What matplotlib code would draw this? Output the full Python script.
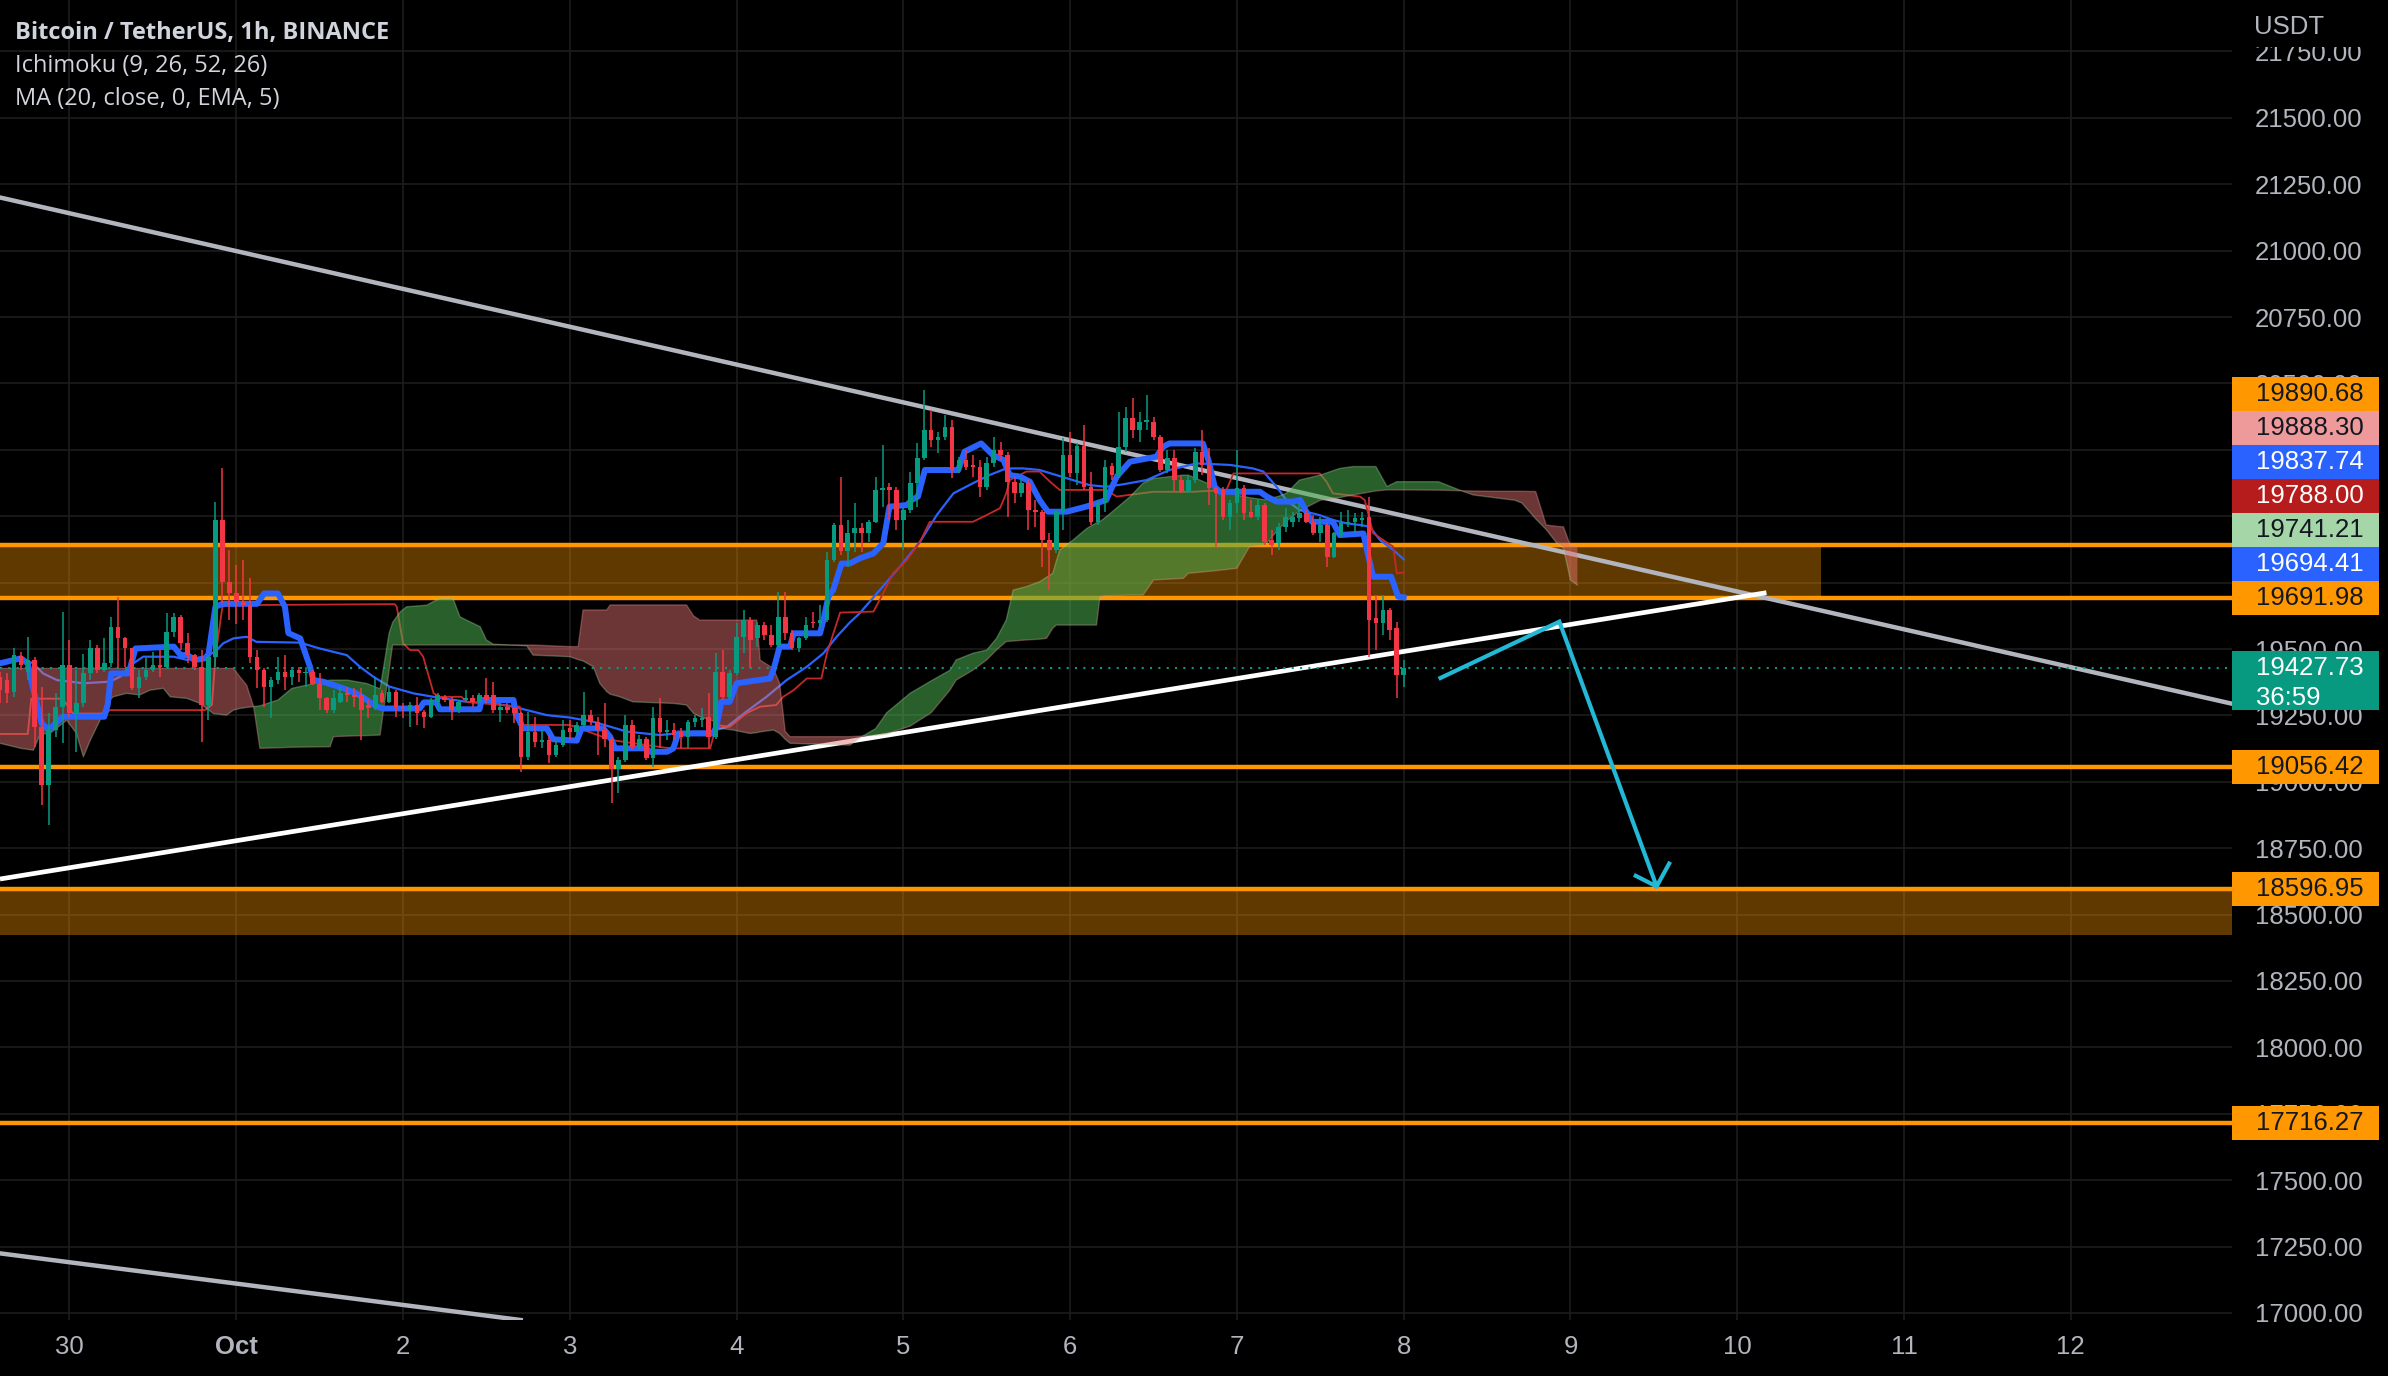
import numpy as np
import matplotlib
matplotlib.use('Agg')
import matplotlib.pyplot as plt
from matplotlib.patches import Rectangle
from matplotlib.transforms import blended_transform_factory

plt.rcParams['font.family'] = ['Liberation Sans', 'DejaVu Sans']

# hour 0 = 30 Sep 00:00, one candle per hour
hours = np.arange(-10, 193)
opens = [19396, 19383, 19339, 19473, 19414, 19458, 19207, 18988, 19195, 19283,
         19440, 19258, 19295, 19408, 19502, 19421, 19446, 19584, 19540, 19502,
         19352, 19396, 19421, 19440, 19433, 19565, 19622, 19521, 19477, 19433,
         19289, 19471, 19986, 19753, 19709, 19678, 19665, 19471, 19421, 19358,
         19383, 19414, 19396, 19421, 19408, 19412, 19370, 19314, 19270, 19301,
         19333, 19327, 19327, 19290, 19276, 19333, 19301, 19339, 19283, 19270,
         19289, 19264, 19245, 19301, 19320, 19308, 19270, 19308, 19314, 19301,
         19327, 19327, 19270, 19283, 19276, 19258, 19094, 19188, 19151, 19157,
         19101, 19138, 19201, 19189, 19214, 19251, 19226, 19195, 19163, 19050,
         19082, 19214, 19132, 19163, 19088, 19239, 19189, 19195, 19189, 19170,
         19226, 19233, 19245, 19170, 19415, 19320, 19408, 19546, 19609, 19540,
         19590, 19553, 19515, 19622, 19559, 19502, 19540, 19603, 19597, 19609,
         19835, 19967, 19870, 19935, 19954, 19935, 19979, 20099, 20111, 20099,
         19986, 20023, 20124, 20218, 20324, 20287, 20299, 20337, 20174, 20212,
         20189, 20187, 20111, 20199, 20249, 20230, 20130, 20086, 20124, 20023,
         20017, 19910, 19873, 20017, 20230, 20161, 20264, 20111, 19979, 20049,
         20189, 20155, 20262, 20368, 20324, 20356, 20356, 20299, 20174, 20218,
         20136, 20092, 20136, 20243, 20193, 20105, 20099, 19998, 20049, 20105,
         20017, 19998, 20042, 19910, 19898, 19960, 19979, 19992, 20011, 19979,
         19935, 19967, 19848, 19929, 19973, 19979, 19986, 19998, 19615, 19597,
         19647, 19578, 19402]
highs = [19414, 19408, 19502, 19490, 19546, 19471, 19358, 19258, 19333, 19640,
         19534, 19421, 19483, 19534, 19515, 19540, 19622, 19697, 19546, 19502,
         19421, 19465, 19490, 19496, 19634, 19634, 19628, 19559, 19483, 19496,
         19477, 20054, 20180, 19872, 19816, 19835, 19766, 19496, 19427, 19396,
         19471, 19477, 19433, 19433, 19433, 19421, 19408, 19320, 19345, 19358,
         19358, 19352, 19352, 19308, 19396, 19345, 19358, 19345, 19295, 19301,
         19320, 19270, 19314, 19333, 19327, 19320, 19308, 19345, 19327, 19333,
         19389, 19377, 19295, 19295, 19283, 19264, 19264, 19245, 19195, 19176,
         19157, 19232, 19232, 19226, 19339, 19270, 19245, 19295, 19170, 19094,
         19251, 19232, 19176, 19170, 19283, 19314, 19232, 19220, 19201, 19232,
         19251, 19276, 19333, 19484, 19496, 19421, 19597, 19647, 19622, 19603,
         19603, 19590, 19716, 19716, 19571, 19546, 19622, 19640, 19666, 19866,
         19973, 20149, 19985, 20048, 19973, 19986, 20149, 20268, 20124, 20111,
         20036, 20168, 20274, 20475, 20400, 20318, 20381, 20362, 20224, 20249,
         20230, 20212, 20224, 20299, 20281, 20243, 20149, 20143, 20136, 20061,
         20023, 19935, 20023, 20293, 20318, 20274, 20343, 20168, 20061, 20212,
         20199, 20393, 20412, 20444, 20393, 20456, 20375, 20306, 20249, 20249,
         20155, 20155, 20256, 20324, 20256, 20111, 20111, 20061, 20249, 20117,
         20061, 20061, 20049, 19948, 19973, 20030, 20017, 20049, 20023, 20004,
         19998, 19973, 19942, 20017, 20023, 20011, 20017, 20074, 19703, 19703,
         19653, 19603, 19458]
lows = [19295, 19295, 19320, 19421, 19383, 19132, 18912, 18837, 19170, 19145,
        19245, 19113, 19283, 19383, 19408, 19414, 19433, 19433, 19433, 19345,
        19314, 19383, 19414, 19396, 19427, 19546, 19496, 19446, 19421, 19151,
        19232, 19433, 19672, 19609, 19596, 19609, 19446, 19352, 19283, 19239,
        19370, 19345, 19364, 19377, 19358, 19364, 19270, 19258, 19258, 19295,
        19301, 19283, 19157, 19239, 19270, 19295, 19295, 19245, 19239, 19207,
        19214, 19201, 19239, 19270, 19301, 19232, 19258, 19301, 19283, 19295,
        19295, 19258, 19226, 19258, 19220, 19038, 19082, 19132, 19126, 19069,
        19094, 19132, 19157, 19176, 19201, 19214, 19101, 19132, 18919, 18956,
        19076, 19120, 19120, 19082, 19057, 19126, 19157, 19157, 19126, 19126,
        19207, 19207, 19126, 19163, 19308, 19308, 19402, 19484, 19427, 19509,
        19534, 19509, 19509, 19534, 19496, 19490, 19534, 19578, 19584, 19603,
        19829, 19854, 19810, 19866, 19866, 19904, 19973, 20036, 19986, 19948,
        19873, 20011, 20036, 20212, 20262, 20237, 20287, 20143, 20161, 20174,
        20149, 20074, 20099, 20187, 20212, 19998, 20048, 20074, 19948, 19961,
        19810, 19722, 19860, 19948, 20149, 20117, 20099, 19967, 19967, 20017,
        20136, 20143, 20243, 20293, 20281, 20324, 20287, 20168, 20161, 20092,
        20086, 20086, 20124, 20155, 20042, 19879, 19986, 19948, 20011, 19986,
        19992, 19986, 19891, 19854, 19873, 19942, 19961, 19979, 19973, 19929,
        19904, 19810, 19841, 19923, 19961, 19935, 19961, 19471, 19496, 19553,
        19534, 19314, 19358]
closes = [19345, 19333, 19477, 19440, 19458, 19207, 18988, 19195, 19283, 19440,
          19258, 19295, 19408, 19502, 19421, 19446, 19584, 19540, 19502, 19352,
          19396, 19421, 19440, 19433, 19565, 19622, 19521, 19477, 19433, 19289,
          19471, 19986, 19753, 19709, 19678, 19665, 19471, 19421, 19358, 19383,
          19414, 19396, 19421, 19408, 19412, 19370, 19314, 19270, 19314, 19333,
          19327, 19320, 19270, 19276, 19327, 19301, 19339, 19283, 19276, 19289,
          19258, 19245, 19308, 19327, 19308, 19270, 19301, 19314, 19301, 19327,
          19308, 19270, 19283, 19270, 19258, 19094, 19188, 19151, 19157, 19101,
          19138, 19195, 19189, 19214, 19251, 19226, 19195, 19163, 19050, 19082,
          19214, 19132, 19163, 19088, 19239, 19189, 19195, 19176, 19170, 19226,
          19239, 19239, 19170, 19415, 19320, 19408, 19546, 19609, 19534, 19590,
          19553, 19515, 19622, 19559, 19502, 19540, 19590, 19597, 19609, 19835,
          19967, 19870, 19935, 19954, 19935, 19979, 20099, 20105, 20099, 19986,
          20023, 20124, 20218, 20324, 20287, 20299, 20337, 20174, 20212, 20187,
          20187, 20111, 20199, 20249, 20230, 20130, 20086, 20124, 20023, 20017,
          19910, 19873, 20017, 20230, 20161, 20264, 20111, 19979, 20049, 20187,
          20155, 20262, 20368, 20324, 20356, 20359, 20299, 20174, 20218, 20136,
          20092, 20136, 20243, 20193, 20105, 20086, 19998, 20049, 20105, 20011,
          19998, 20042, 19904, 19891, 19960, 19998, 19998, 20011, 19979, 19935,
          19967, 19848, 19935, 19973, 19979, 19992, 19992, 19609, 19597, 19647,
          19571, 19402, 19427.73]

# Ichimoku conversion line (thick blue)
conv_h = [-10, -7, -6, -5.5, -4, -3, -1, 5, 5.5, 6,
          8.5, 9.5, 15, 16, 17, 18, 19.5, 20, 21, 22,
          27, 28, 30, 31, 31.5, 33.2, 34.6, 35.1, 36.5, 38,
          39.4, 41.3, 42.8, 44.2, 45.2, 50.4, 51, 52.8, 53.3, 59,
          59.3, 63.9, 64.2, 65.3, 68.7, 69.6, 73, 73.7, 76.8, 77.8,
          78.5, 83, 83.5, 86, 86.9, 87.6, 92.6, 93.1, 93.8, 95,
          96, 100.8, 101.3, 102.2, 103.7, 104.2, 108, 108.5, 109.2, 109.9,
          111.1, 112.3, 113.7, 115.7, 117.1, 118, 120.5, 121.2, 122.1, 123.1,
          127.9, 128.8, 131.2, 132.9, 134.4, 135.3, 136.8, 138.2, 139.6, 140.8,
          143.5, 146.3, 149.2, 150.7, 152.6, 156.4, 157.4, 158.3, 163.1, 163.9,
          164.8, 165.5, 171.3, 172.3, 173.7, 176.1, 177.1, 178.1, 178.8, 181.8,
          182.8, 186.2, 186.6, 187.6, 190.2, 191.2, 192]
conv_p = [19446, 19465, 19446, 19380, 19220, 19195, 19245, 19245, 19290, 19408,
          19408, 19502, 19509, 19477, 19477, 19458, 19465, 19480, 19659, 19670,
          19670, 19709, 19709, 19659, 19560, 19540, 19434, 19383, 19377, 19364,
          19352, 19333, 19308, 19283, 19276, 19276, 19299, 19299, 19273, 19273,
          19308, 19308, 19257, 19201, 19201, 19160, 19155, 19201, 19201, 19170,
          19126, 19126, 19113, 19113, 19126, 19182, 19182, 19207, 19301, 19301,
          19371, 19389, 19421, 19509, 19509, 19559, 19559, 19609, 19697, 19722,
          19822, 19822, 19841, 19860, 19898, 20036, 20042, 20061, 20074, 20174,
          20174, 20243, 20274, 20230, 20212, 20155, 20149, 20130, 20061, 20017,
          20017, 20036, 20061, 20149, 20205, 20224, 20262, 20274, 20274, 20211,
          20111, 20092, 20092, 20074, 20055, 20055, 20061, 20011, 19979, 19979,
          19929, 19935, 19885, 19772, 19772, 19697, 19694.41]

# Ichimoku base line (thin red)
base_h = [-10, -6, -5.5, -1, 0.5, 5.3, 5.8, 19.5, 20.5, 21,
          22, 23, 46.8, 47.1, 48, 49, 50.2, 50.9, 52.4, 53.3,
          56.4, 57.2, 64.8, 65.3, 72, 78, 86.4, 92.2, 93.1, 95,
          97.4, 99.4, 101.7, 102.7, 104.2, 106.1, 108.2, 109, 110.9, 115.7,
          117.1, 118.5, 120.5, 122.4, 123.8, 130, 131.5, 133.9, 134.8, 135.3,
          137.7, 139.6, 141.1, 142.5, 149.2, 150.7, 156, 161.7, 166.5, 167.5,
          179.9, 180.9, 181.8, 185.7, 186.4, 187.6, 190.5, 191, 192]
base_p = [19180, 19180, 19313, 19313, 19257, 19257, 19270, 19270, 19290, 19470,
          19659, 19665, 19669, 19659, 19521, 19496, 19496, 19471, 19333, 19320,
          19320, 19301, 19283, 19214, 19214, 19157, 19126, 19126, 19214, 19207,
          19258, 19283, 19289, 19320, 19345, 19389, 19389, 19484, 19637, 19641,
          19710, 19785, 19835, 19904, 19979, 19979, 19998, 20030, 20086, 20136,
          20168, 20168, 20130, 20099, 20099, 20074, 20092, 20092, 20099, 20161,
          20161, 20130, 20086, 20074, 20061, 19936, 19885, 19785, 19788]

# MA (20, close, EMA)
ema_h = [-10, -7.1, -5.2, -3.8, -1.8, 2, 5.8, 7.3, 9.2, 10.6,
         15, 16.9, 18.3, 19.7, 21.2, 22.1, 23.6, 25.5, 26.9, 33.2,
         36, 39.9, 41.8, 43.7, 46.1, 49.5, 52.8, 57.2, 61, 63.9,
         65.8, 68.7, 72, 75.4, 80.2, 85, 89.8, 92.2, 94.6, 97.4,
         100.3, 103.2, 106.1, 108.5, 110.4, 112.3, 113.7, 116.6, 119.5, 122.4,
         124.8, 127.2, 130, 132.4, 134.8, 137.2, 139.6, 142, 144.4, 146.8,
         149.2, 151.6, 155, 158.3, 162.2, 167, 170.3, 171.8, 173.7, 175.1,
         177, 179.9, 181.8, 183.8, 185.7, 187.1, 188.6, 190.5, 192]
ema_p = [19446, 19465, 19446, 19408, 19383, 19371, 19377, 19396, 19446, 19471,
         19471, 19459, 19465, 19471, 19496, 19521, 19540, 19546, 19527, 19524,
         19502, 19477, 19433, 19396, 19358, 19333, 19318, 19301, 19295, 19283,
         19270, 19251, 19242, 19226, 19189, 19176, 19189, 19189, 19207, 19264,
         19320, 19383, 19433, 19484, 19546, 19600, 19634, 19722, 19810, 19904,
         20004, 20086, 20124, 20155, 20180, 20180, 20174, 20155, 20136, 20117,
         20111, 20120, 20136, 20174, 20199, 20193, 20180, 20168, 20111, 20061,
         20023, 20004, 19986, 19973, 19967, 19961, 19910, 19873, 19837.74]

# Ichimoku cloud (leading spans, shifted 26 bars forward)
cloud_h = [-10, -7, -5.2, -4.2, -2.8, -0.4, 1, 2, 3, 4.4,
           5.3, 6.3, 8.2, 10.1, 11.6, 13.5, 14.5, 16.9, 18.8, 20.7,
           22.6, 23.6, 24.5, 25.5, 26.5, 27.4, 30, 32, 37.5, 38,
           40, 42.8, 44.7, 46, 46.5, 47.6, 48.5, 51.4, 52.3, 53.3,
           55.2, 56.2, 57.6, 59.1, 60, 61, 65.8, 66.7, 72, 73.2,
           73.9, 75.4, 76.3, 77.3, 77.8, 79.2, 81.1, 87, 88.8, 89.8,
           90.7, 93, 93.6, 95.5, 97.9, 98.9, 99.4, 101.3, 102.2, 103,
           103.7, 112.3, 114, 116, 117.6, 121, 124, 126.7, 127.6, 130,
           132, 133.4, 134.8, 135.8, 137.7, 139.6, 140.6, 141.5, 142, 142.5,
           144.4, 146.4, 147.8, 148.3, 149.2, 152.6, 154.5, 156, 160.3, 161,
           165, 168, 169.8, 172, 174, 175.1, 177, 180, 182.8, 184.7,
           188, 189.6, 191, 197, 200, 202, 205, 208, 209, 211,
           212.5, 214, 215, 216, 217]
span_a = [19145, 19126, 19119, 19180, 19182, 19232, 19182, 19094, 19157, 19232,
          19295, 19320, 19333, 19327, 19345, 19352, 19320, 19314, 19295, 19257,
          19251, 19270, 19276, 19280, 19283, 19286, 19308, 19352, 19383, 19383,
          19383, 19370, 19350, 19560, 19600, 19640, 19659, 19665, 19678, 19690,
          19690, 19621, 19603, 19584, 19534, 19518, 19512, 19477, 19471, 19460,
          19455, 19433, 19371, 19340, 19330, 19320, 19301, 19295, 19289, 19258,
          19245, 19226, 19201, 19195, 19182, 19185, 19188, 19195, 19182, 19160,
          19145, 19138, 19170, 19200, 19260, 19334, 19380, 19420, 19459, 19484,
          19496, 19540, 19609, 19722, 19735, 19753, 19770, 19785, 19830, 19873,
          19910, 19954, 19975, 19980, 19998, 20073, 20125, 20142, 20155, 20155,
          20110, 20080, 20070, 20062, 20075, 20086, 20136, 20155, 20180, 20187,
          20187, 20112, 20130, 20130, 20099, 20080, 20070, 20060, 20050, 19990,
          19950, 19900, 19880, 19760, 19741.21]
span_b = [19427, 19427, 19427, 19427, 19427, 19427, 19427, 19427, 19427, 19427,
          19427, 19427, 19427, 19427, 19427, 19427, 19427, 19427, 19427, 19427,
          19427, 19427, 19396, 19364, 19283, 19126, 19128, 19130, 19132, 19170,
          19172, 19174, 19176, 19420, 19515, 19515, 19515, 19515, 19515, 19515,
          19515, 19515, 19515, 19515, 19515, 19515, 19515, 19515, 19509, 19509,
          19647, 19647, 19647, 19647, 19666, 19666, 19666, 19666, 19666, 19625,
          19609, 19609, 19609, 19609, 19609, 19609, 19458, 19427, 19371, 19190,
          19170, 19170, 19172, 19175, 19180, 19210, 19260, 19345, 19383, 19420,
          19459, 19496, 19528, 19530, 19534, 19537, 19540, 19578, 19590, 19590,
          19590, 19590, 19590, 19697, 19700, 19703, 19703, 19760, 19766, 19785,
          19795, 19804, 19885, 19891, 19950, 19980, 20020, 20060, 20070, 20080,
          20095, 20099, 20099, 20098, 20096, 20095, 20094, 20094, 20094, 20093,
          19967, 19962, 19960, 19888.3, 19888.3]

# drawings
levels = [19890.68, 19691.98, 19056.42, 18596.95, 17716.27]
zone1 = (-12, 252.1, 19691.98, 19890.68)
zone2 = (-12, 330, 18422, 18596.95)
upper_trend = [(-10, 21200), (311.2, 19294)]
lower_trend = [(-9.85, 17224), (67.2, 16966)]
rising_trend_h = [-10, 244.2]
rising_trend_p = [18634, 19712]
arrow_h = [197.3, 214.4, 228.4]
arrow_p = [19391, 19603, 18606]
head_h = [225.4, 228.4, 230.2]
head_p = [18646, 18606, 18692]
last_price = 19427.73

day_ticks = list(range(0, 289, 24))
day_labels = ['30', 'Oct', '2', '3', '4', '5', '6', '7', '8', '9', '10', '11', '12']
price_ticks = list(range(17000, 21751, 250))

label_vals = [19890.68, 19888.30, 19837.74, 19788.00, 19741.21, 19694.41,
              19691.98, 19427.73, 19056.42, 18596.95, 17716.27]
label_bg = ['#FF9800', '#EF9A9A', '#2962FF', '#B71C1C', '#A5D6A7', '#2962FF',
            '#FF9800', '#089981', '#FF9800', '#FF9800', '#FF9800']
label_fg = ['#131722', '#131722', 'white', 'white', '#131722', 'white',
            '#131722', 'white', '#131722', '#131722', '#131722']

W, H = 2388, 1376
plot_w, plot_h = 2232, 1320
y0, y1 = 16973.6, 21943.6

fig = plt.figure(figsize=(W / 100, H / 100), dpi=100, facecolor='black')
ax = fig.add_axes([0, (H - plot_h) / H, plot_w / W, plot_h / H])
ax.set_facecolor('black')
ax.set_xlim(-10.0, 311.2)
ax.set_ylim(y0, y1)
for s in ax.spines.values():
    s.set_visible(False)

ax.set_xticks(day_ticks)
ax.set_xticklabels(day_labels)
ax.set_yticks(price_ticks)
ax.set_yticklabels(['%.2f' % v for v in price_ticks])
ax.yaxis.tick_right()
ax.tick_params(axis='y', length=0, pad=16.5, labelsize=18.5, labelcolor='#b2b5be')
ax.tick_params(axis='x', length=0, pad=11, labelsize=18.5, labelcolor='#b2b5be')
ax.get_xticklabels()[1].set_fontweight('bold')
ax.grid(color='#1c1c1c', lw=1.2)
ax.set_axisbelow(True)

# zones and levels
for x0, x1, lo, hi in [zone1, zone2]:
    ax.add_patch(Rectangle((x0, lo), x1 - x0, hi - lo, facecolor='#FF9800',
                           alpha=0.38, lw=0, zorder=1))
for lv in levels:
    ax.axhline(lv, color='#FF9800', lw=3.2, zorder=2)

# trend lines
ax.axline(upper_trend[0], upper_trend[1], color='#b2b5be', lw=3.2, zorder=2)
ax.axline(lower_trend[0], lower_trend[1], color='#b2b5be', lw=3.2, zorder=2)
ax.plot(rising_trend_h, rising_trend_p, color='white', lw=3.4, zorder=2,
        solid_capstyle='butt')

# EMA and base line sit under the cloud
ax.plot(ema_h, ema_p, color='#2962FF', lw=1.6, zorder=2.5)
ax.plot(base_h, base_p, color='#C62828', lw=1.3, zorder=2.5)

ca = np.array(span_a)
cb = np.array(span_b)
ax.fill_between(cloud_h, ca, cb, where=ca >= cb, interpolate=True,
                color='#4CAF50', alpha=0.55, lw=0, zorder=3)
ax.fill_between(cloud_h, ca, cb, where=ca < cb, interpolate=True,
                color='#E57373', alpha=0.48, lw=0, zorder=3)
ax.plot(cloud_h, span_a, color='#A5D6A7', alpha=0.35, lw=1, zorder=3)
ax.plot(cloud_h, span_b, color='#EF9A9A', alpha=0.35, lw=1, zorder=3)

ax.plot(conv_h, conv_p, color='#2962FF', lw=4.3, zorder=4,
        solid_joinstyle='round')

# candles
o = np.array(opens, dtype=float)
c = np.array(closes, dtype=float)
up = c >= o
col = np.where(up, '#089981', '#F23645')
ax.vlines(hours, lows, highs, colors=col, lw=1.1, zorder=5)
body = np.maximum(np.abs(c - o), 6)
ax.bar(hours, body, bottom=np.minimum(o, c), width=0.66, color=col,
       lw=0, zorder=5)

ax.axhline(last_price, color='#089981', lw=1.5, ls=(0, (1, 3)), zorder=4)

# projected move
ax.plot(arrow_h, arrow_p, color='#22B8D6', lw=3.0, zorder=6,
        solid_joinstyle='miter')
ax.plot(head_h, head_p, color='#22B8D6', lw=3.0, zorder=6)

# price scale labels
ppp = plot_h / (y1 - y0)
lab_h = 34 / ppp
tb = blended_transform_factory(ax.transAxes, ax.transData)
box_w = 147 / plot_w
txt_x = 1 + 24 / plot_w
prev_top = -np.inf
for i in np.argsort(label_vals):
    v = label_vals[i]
    y = max(v, prev_top + lab_h / 2)
    if v == last_price:
        tall = 59 / ppp
        ax.add_patch(Rectangle((1.0, y + lab_h / 2 - tall), box_w, tall,
                               transform=tb, facecolor=label_bg[i], lw=0,
                               clip_on=False, zorder=10))
        ax.text(txt_x, y, '%.2f' % v, transform=tb, va='center', ha='left',
                fontsize=18.5, color=label_fg[i], zorder=11, clip_on=False)
        ax.text(txt_x, y - 30 / ppp, '36:59', transform=tb, va='center',
                ha='left', fontsize=18.5, color=label_fg[i], zorder=11,
                clip_on=False)
    else:
        ax.add_patch(Rectangle((1.0, y - lab_h / 2), box_w, lab_h,
                               transform=tb, facecolor=label_bg[i], lw=0,
                               clip_on=False, zorder=10))
        ax.text(txt_x, y, '%.2f' % v, transform=tb, va='center', ha='left',
                fontsize=18.5, color=label_fg[i], zorder=11, clip_on=False)
    prev_top = y + lab_h / 2

# currency header on the price scale
fig.patches.append(Rectangle((plot_w / W, 1 - 47 / H), 1 - plot_w / W, 47 / H,
                             transform=fig.transFigure, facecolor='black',
                             lw=0, zorder=5))
fig.text(2254 / W, 1 - 27 / H, 'USDT', va='center', ha='left', fontsize=18.5,
         color='#b2b5be', zorder=6)

# legend text
hdr_font = ['Open Sans', 'DejaVu Sans']
fig.text(15 / W, 1 - 33 / H, 'Bitcoin / TetherUS, 1h, BINANCE', va='center',
         fontsize=17, fontweight='bold', color='#d1d4dc', family=hdr_font)
fig.text(15 / W, 1 - 66 / H, 'Ichimoku (9, 26, 52, 26)', va='center',
         fontsize=17, color='#d1d4dc', family=hdr_font)
fig.text(15 / W, 1 - 99 / H, 'MA (20, close, 0, EMA, 5)', va='center',
         fontsize=17, color='#d1d4dc', family=hdr_font)

fig.savefig('out.png', dpi=100, facecolor='black')
